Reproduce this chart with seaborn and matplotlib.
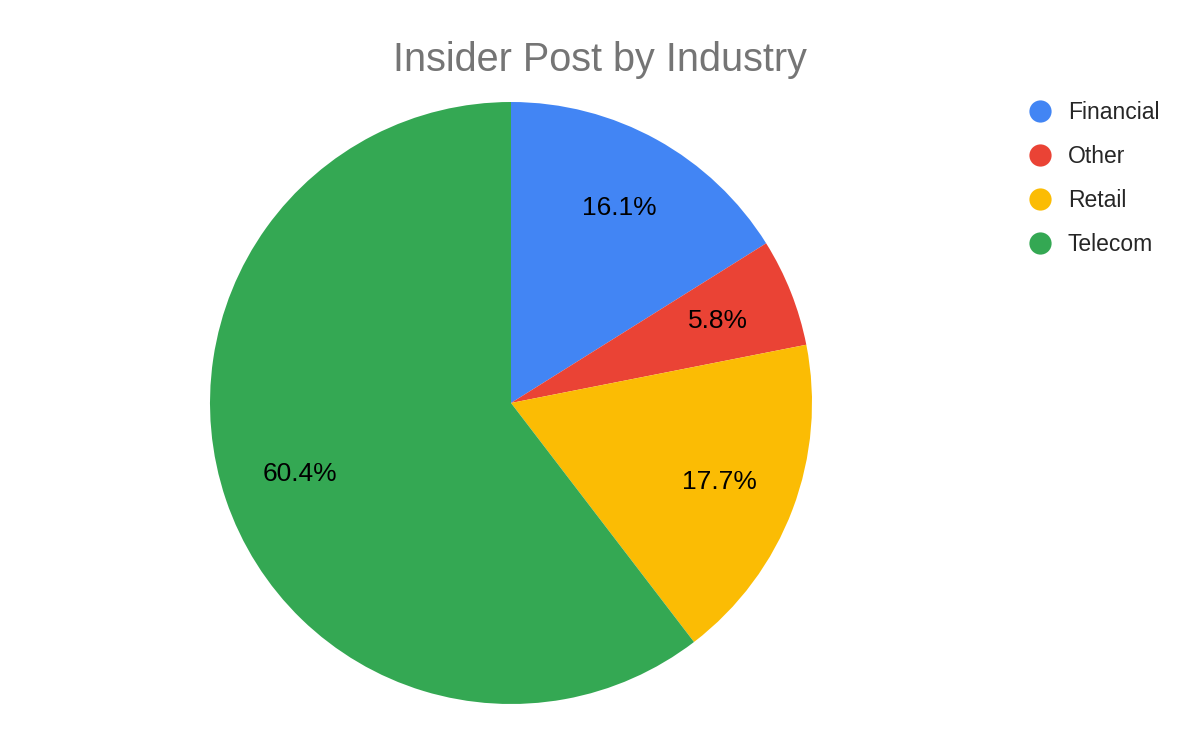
import matplotlib
matplotlib.use("Agg")
import matplotlib.pyplot as plt
from matplotlib.lines import Line2D
import seaborn as sns

categories = ["Financial", "Other", "Retail", "Telecom"]
shares = [16.1, 5.8, 17.7, 60.4]
colors = ["#4285F4", "#EA4335", "#FBBC04", "#34A853"]
title = "Insider Post by Industry"

sns.set_theme(style="white")
plt.rcParams["font.family"] = ["Liberation Sans", "DejaVu Sans"]

W, H = 1200, 742
fig = plt.figure(figsize=(W / 100, H / 100), dpi=100)
fig.patch.set_facecolor("white")

cx, cy, r = 511, 403, 301
ax = fig.add_axes([(cx - r) / W, (H - cy - r) / H, 2 * r / W, 2 * r / H])
wedges, texts, autotexts = ax.pie(
    shares,
    colors=colors,
    startangle=90,
    counterclock=False,
    autopct="%1.1f%%",
    pctdistance=0.74,
    wedgeprops=dict(linewidth=0),
    textprops=dict(fontsize=19, color="black"),
)
ax.set_xlim(-1, 1)
ax.set_ylim(-1, 1)
ax.set_aspect("equal")
ax.axis("off")

fig.text(600 / W, 1 - 60 / H, title, ha="center", va="center",
         fontsize=28.5, color="#757575")

handles = [Line2D([0], [0], marker="o", linestyle="none", markersize=16,
                  markerfacecolor=c, markeredgewidth=0) for c in colors]
fig.legend(handles, categories, loc="upper left",
           bbox_to_anchor=(1026 / W, 1 - 101 / H), frameon=False,
           fontsize=16.5, labelspacing=0.92, handletextpad=0.62,
           handlelength=1.2, borderaxespad=0, borderpad=0)

fig.savefig("out.png", dpi=100, facecolor="white")
